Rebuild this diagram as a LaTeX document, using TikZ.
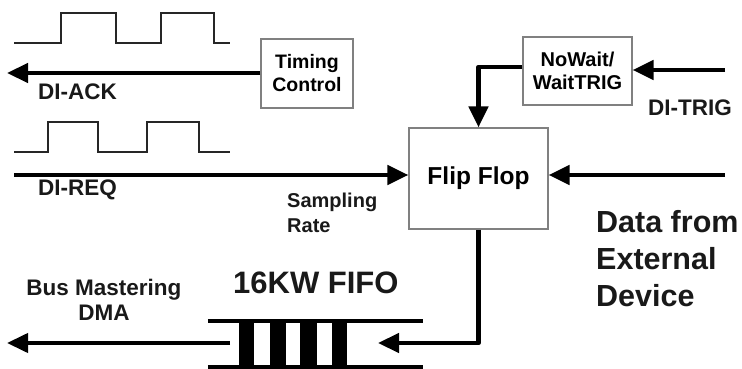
\documentclass[tikz,border=0pt]{standalone}
\usepackage{fontspec}
\setmainfont{Liberation Sans}
\usetikzlibrary{arrows.meta}
\begin{document}
\begin{tikzpicture}[x=1pt,y=-1pt,
  box/.style={draw=black!50, line width=1.2pt, fill=white, inner sep=0pt},
  lbl/.style={inner sep=0pt, text=black!90},
  sig/.style={line width=4.5pt, -{Triangle[length=21pt,width=19pt]}},
  wave/.style={line width=2.2pt, black!85, line join=miter},
  fifoline/.style={line width=3.5pt},
  bar/.style={fill=black}]
\useasboundingbox (0,0) rectangle (742,369);
% waveforms
\draw[wave] (14,43) -- (61,43) -- (61,13) -- (116,13) -- (116,43) -- (161,43) -- (161,13) -- (214,13) -- (214,43) -- (230,43);
\draw[wave] (14,152) -- (48,152) -- (48,122) -- (98,122) -- (98,152) -- (147,152) -- (147,122) -- (199,122) -- (199,152) -- (230,152);
% boxes
\node[box, minimum width=92pt, minimum height=69pt, align=center, font=\bfseries\fontsize{19.5}{23}\selectfont] (tc) at (307,73.5) {Timing\\Control};
\node[box, minimum width=109pt, minimum height=68pt, align=center, font=\bfseries\fontsize{20}{23}\selectfont] (nw) at (577.5,71) {NoWait/\\WaitTRIG};
\node[box, minimum width=139pt, minimum height=101pt, font=\bfseries\fontsize{24.5}{28}\selectfont] (ff) at (478.5,178.5) {Flip Flop};
% FIFO
\node[minimum width=215pt, minimum height=46pt, inner sep=0pt] (fifo) at (315.5,344) {};
\fill[bar] (239,321) rectangle (254,367);
\fill[bar] (270,321) rectangle (286,367);
\fill[bar] (300,321) rectangle (317,367);
\fill[bar] (332,321) rectangle (347,367);
\draw[fifoline] (fifo.north west) -- (fifo.north east);
\draw[fifoline] (fifo.south west) -- (fifo.south east);
% coordinates
\coordinate (ackend) at (7,73);
\coordinate (reqstart) at (14,175);
\coordinate (trigstart) at (725,70);
\coordinate (datastart) at (725,175);
\coordinate (fifoin) at (378,343);
\coordinate (fifoout) at (230,343);
\coordinate (dmaend) at (7,343);
% connectors
\draw[sig] (tc.west |- ackend) -- (ackend);
\draw[sig] (reqstart) -- (ff.west |- reqstart);
\draw[sig] (trigstart) -- (nw.east |- trigstart);
\draw[sig, line join=round] (nw.west |- 0,67) -| (ff.north);
\draw[sig] (datastart) -- (ff.east |- datastart);
\draw[sig, line join=round] (ff.south) |- (fifoin);
\draw[sig, line width=4pt] (fifoout) -- (dmaend);
% labels
\node[lbl, anchor=west, font=\bfseries\fontsize{22.5}{25}\selectfont] (ack) at (38,92) {DI-ACK};
\node[lbl, anchor=west, font=\bfseries\fontsize{22.5}{25}\selectfont] (req) at (38,190) {DI-REQ};
\node[lbl, anchor=west, font=\bfseries\fontsize{22.5}{25}\selectfont] (trig) at (648,108) {DI-TRIG};
\node[lbl, anchor=west, align=left, font=\bfseries\fontsize{20}{25}\selectfont] (samp) at (287,212.5) {Sampling\\Rate};
\node[lbl, align=center, font=\bfseries\fontsize{22.5}{25}\selectfont] (bus) at (104,299.5) {Bus Mastering\\DMA};
\node[lbl, anchor=west, font=\bfseries\fontsize{31}{36}\selectfont] (fifolbl) at (233,283) {16KW FIFO};
\node[lbl, anchor=west, align=left, font=\bfseries\fontsize{30.5}{37}\selectfont] (data) at (596,259) {Data from\\External\\Device};
\end{tikzpicture}
\end{document}
